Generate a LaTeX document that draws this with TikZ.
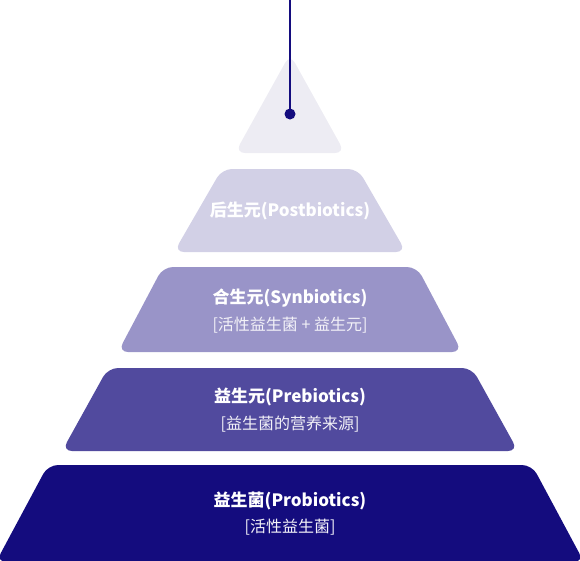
\documentclass[tikz,border=0pt]{standalone}
\usepackage{fontspec}
\setmainfont{Noto Sans CJK SC}
\usepackage{xcolor}
\usepackage{tikz}
\definecolor{tiertop}{HTML}{EDECF3}
\definecolor{tierpost}{HTML}{D2D0E6}
\definecolor{tiersyn}{HTML}{9994C8}
\definecolor{tierpre}{HTML}{514A9E}
\definecolor{tierpro}{HTML}{140C7E}
\tikzstyle{tier} = [rounded corners=10pt]
\tikzstyle{title} = [text=white, font=\fontsize{17}{19}\selectfont\bfseries, inner sep=0pt]
\tikzstyle{subtitle} = [text=white!88!tiersyn, font=\fontsize{16}{18}\selectfont, inner sep=0pt]
\tikzstyle{pin} = [draw=tierpro, line width=2pt]

\begin{document}
\begin{tikzpicture}[x=1pt, y=-1pt]
    \useasboundingbox (0,0) rectangle (580,560);
    % pyramid tiers
    \fill [tier, fill=tiertop] (235,153) -- (290,54) -- (345,153) -- cycle;
    \fill [tier, fill=tierpost] (222,169) -- (358,169) -- (406,252) -- (174,252) -- cycle;
    \fill [tier, fill=tiersyn] (163,267) -- (417,267) -- (462,352) -- (118,352) -- cycle;
    \fill [tier, fill=tierpre] (108,368) -- (472,368) -- (518,451) -- (62,451) -- cycle;
    \fill [tier, fill=tierpro] (48,465) -- (532,465) -- (584,562) -- (-4,562) -- cycle;
    % labels
    \node (post) [title] at (290,211) {后生元(Postbiotics)};
    \node (syn) [title] at (290,298) {合生元(Synbiotics)};
    \node (synsub) [subtitle] at (290,325) {[活性益生菌 + 益生元]};
    \node (pre) [title] at (290,397) {益生元(Prebiotics)};
    \node (presub) [subtitle] at (290,424) {[益生菌的营养来源]};
    \node (pro) [title] at (290,501) {益生菌(Probiotics)};
    \node (prosub) [subtitle] at (290,527) {[活性益生菌]};
    % pointer
    \coordinate (top) at (290,0);
    \node (dot) [circle, fill=tierpro, minimum size=11pt, inner sep=0pt] at (290,114) {};
    \draw [pin] (top) -- (dot.center);
\end{tikzpicture}
\end{document}
